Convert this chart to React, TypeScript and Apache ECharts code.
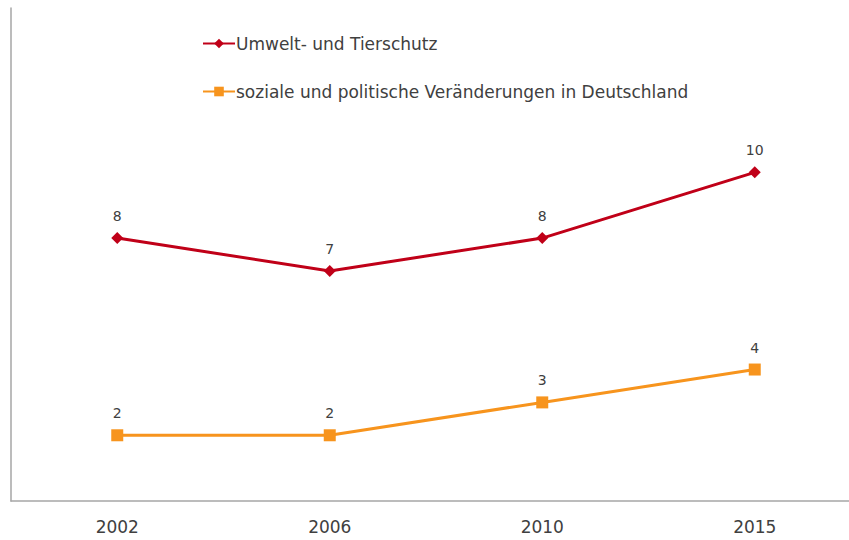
import React, { useEffect, useRef } from "react";
import * as echarts from "echarts";

const years = ["2002", "2006", "2010", "2015"];
const umweltValues = [8, 7, 8, 10];
const sozialeValues = [2, 2, 3, 4];
const seriesNames = ["Umwelt- und Tierschutz", "soziale und politische Veränderungen in Deutschland"];

export default function App() {
  const ref = useRef<HTMLDivElement>(null);
  useEffect(() => {
    if (!ref.current) return;
    const chart = echarts.init(ref.current, undefined, { renderer: "svg" });
    const font = "'DejaVu Sans', sans-serif";
    chart.setOption({
      animation: false,
      backgroundColor: "#ffffff",
      textStyle: { fontFamily: font },
      legend: {
        orient: "vertical",
        left: 197,
        top: 30,
        itemWidth: 32,
        itemHeight: 12,
        itemGap: 31,
        textStyle: { fontSize: 17, color: "#404040", fontFamily: font, lineHeight: 17, padding: [0, 0, 0, -4] },
        data: seriesNames,
      },
      grid: { left: 11, top: 8, width: 850, height: 493, outerBoundsMode: "none", containLabel: false },
      xAxis: {
        type: "category",
        data: years,
        boundaryGap: true,
        axisLine: { show: true, lineStyle: { color: "#a6a6a6", width: 1.5 } },
        axisTick: { show: false },
        axisLabel: { fontSize: 17, color: "#404040", margin: 17, fontFamily: font },
      },
      yAxis: {
        type: "value",
        min: 0,
        max: 15,
        interval: 5,
        axisLine: { show: true, lineStyle: { color: "#a6a6a6", width: 1.5 } },
        axisTick: { show: false },
        axisLabel: { show: false },
        splitLine: { show: false },
      },
      series: [
        {
          name: seriesNames[0],
          type: "line",
          data: umweltValues,
          symbol: "diamond",
          symbolSize: 12,
          color: "#c00018",
          lineStyle: { width: 3, color: "#c00018" },
          itemStyle: { color: "#c00018" },
          label: { show: true, position: "top", distance: 9, fontSize: 14, color: "#404040", fontFamily: font },
        },
        {
          name: seriesNames[1],
          type: "line",
          data: sozialeValues,
          symbol: "rect",
          symbolSize: 12,
          color: "#f7941d",
          lineStyle: { width: 3, color: "#f7941d" },
          itemStyle: { color: "#f7941d" },
          label: { show: true, position: "top", distance: 9, fontSize: 14, color: "#404040", fontFamily: font },
        },
      ],
    });
    return () => chart.dispose();
  }, []);
  return <div ref={ref} style={{ position: "fixed", left: 0, top: 0, width: 849, height: 540 }} />;
}
